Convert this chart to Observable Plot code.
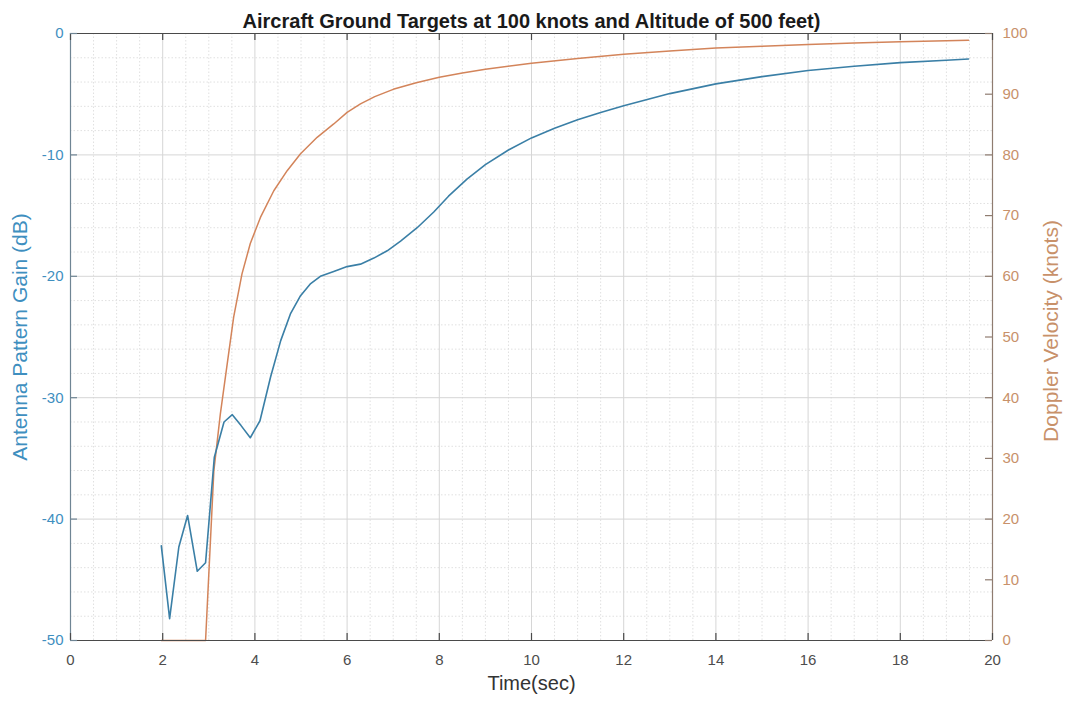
<!DOCTYPE html>
<html>
<head>
<meta charset="utf-8">
<script src="https://cdn.jsdelivr.net/npm/d3@7"></script>
<script src="https://cdn.jsdelivr.net/npm/@observablehq/plot@0.6"></script>
<style>
  html, body { margin: 0; padding: 0; background: #ffffff; }
  #chart svg { display: block; }
</style>
</head>
<body>
<div id="chart"></div>
<script>
// ---- Data ----
const gainTime = [1.97, 2.15, 2.35, 2.54, 2.75, 2.93, 3.12, 3.33, 3.51, 3.70, 3.90, 4.11, 4.34, 4.56, 4.77, 4.99, 5.21, 5.42, 5.71, 6.00, 6.29, 6.58, 6.87, 7.16, 7.52, 7.88, 8.2, 8.6, 9.0, 9.5, 10, 10.5, 11, 11.5, 12, 13, 14, 15, 16, 17, 18, 19, 19.48];
const gainDb   = [-42.2, -48.2, -42.3, -39.7, -44.3, -43.6, -34.9, -32.0, -31.4, -32.3, -33.3, -31.9, -28.3, -25.3, -23.1, -21.6, -20.6, -20.0, -19.6, -19.2, -19.0, -18.5, -17.9, -17.1, -16.0, -14.7, -13.4, -12.0, -10.8, -9.6, -8.6, -7.8, -7.1, -6.5, -5.95, -4.95, -4.15, -3.55, -3.05, -2.7, -2.4, -2.2, -2.1];

const dopplerTime  = [1.97, 2.93, 3.11, 3.25, 3.40, 3.54, 3.72, 3.90, 4.12, 4.41, 4.70, 4.99, 5.35, 5.71, 6.00, 6.29, 6.6, 7.0, 7.5, 8, 8.5, 9, 10, 11, 12, 13, 14, 15, 16, 17, 18, 19, 19.48];
const dopplerKnots = [0, 0, 28.0, 37.3, 45.6, 53.3, 60.4, 65.4, 69.7, 74.1, 77.4, 80.2, 82.9, 85.1, 87.0, 88.4, 89.6, 90.8, 91.9, 92.8, 93.5, 94.1, 95.1, 95.9, 96.6, 97.1, 97.6, 97.9, 98.2, 98.45, 98.65, 98.8, 98.9];

const xTicks = [0, 2, 4, 6, 8, 10, 12, 14, 16, 18, 20];
const leftTicks = [-50, -40, -30, -20, -10, 0];
const rightTicks = [0, 10, 20, 30, 40, 50, 60, 70, 80, 90, 100];

const titleText = "Aircraft Ground Targets at 100 knots and Altitude of 500 feet)";
const xLabel = "Time(sec)";
const leftLabel = "Antenna Pattern Gain (dB)";
const rightLabel = "Doppler Velocity (knots)";

// ---- Derived tables ----
const gainData = gainTime.map((t, i) => ({t, v: gainDb[i]}));
const dopData = dopplerTime.map((t, i) => ({t, v: dopplerKnots[i]}));
const toLeft = k => k / 2 - 50;          // right axis (knots 0..100) -> left axis (dB -50..0)
const xMinor = d3.range(0, 20.001, 0.5).filter(v => Math.abs(v / 2 - Math.round(v / 2)) > 1e-6);
const yMinor = d3.range(-50, 0.001, 2).filter(v => v % 10 !== 0);

const W = 1066, H = 704;
const mL = 70, mR = 74, mT = 33, mB = 64;
const xPerPx = 20 / (W - mL - mR);
const yPerPx = 50 / (H - mT - mB);
const tickPx = 7;

const BLUE = "#3a7fa6";
const ORANGE = "#d3845a";
const BLUE_TXT = "#3f8fbf";
const ORANGE_TXT = "#c8916a";
const AXIS = "#4a4a4a";

const chart = Plot.plot({
  width: W, height: H,
  marginLeft: mL, marginRight: mR, marginTop: mT, marginBottom: mB,
  x: {domain: [0, 20]},
  y: {domain: [-50, 0]},
  style: {fontFamily: "'Liberation Sans', Arial, sans-serif", background: "#ffffff", fontSize: "14px"},
  marks: [
    // grid
    Plot.gridX(xMinor, {stroke: "#e0e0e0", strokeOpacity: 1, strokeDasharray: "1.5,2"}),
    Plot.gridY(yMinor, {stroke: "#e0e0e0", strokeOpacity: 1, strokeDasharray: "1.5,2"}),
    Plot.gridX(xTicks, {stroke: "#d6d6d6", strokeOpacity: 1}),
    Plot.gridY(leftTicks, {stroke: "#d6d6d6", strokeOpacity: 1}),
    // data
    Plot.line(dopData, {x: "t", y: d => toLeft(d.v), stroke: ORANGE, strokeWidth: 1.5}),
    Plot.line(gainData, {x: "t", y: "v", stroke: BLUE, strokeWidth: 1.6}),
    // box
    Plot.ruleY([0], {stroke: AXIS, strokeWidth: 1.2}),
    Plot.ruleY([-50], {stroke: AXIS, strokeWidth: 1.2}),
    Plot.ruleX([0], {stroke: "#6f8594", strokeWidth: 1.2}),
    Plot.ruleX([20], {stroke: "#8f7c70", strokeWidth: 1.2}),
    // inward ticks
    Plot.ruleX(xTicks, {x: d => d, y1: -50, y2: -50 + tickPx * yPerPx, stroke: AXIS, strokeWidth: 1.2}),
    Plot.ruleX(xTicks, {x: d => d, y1: 0, y2: -tickPx * yPerPx, stroke: AXIS, strokeWidth: 1.2}),
    Plot.ruleY(leftTicks, {y: d => d, x1: 0, x2: tickPx * xPerPx, stroke: "#6f8594", strokeWidth: 1.2}),
    Plot.ruleY(rightTicks, {y: d => toLeft(d), x1: 20, x2: 20 - tickPx * xPerPx, stroke: "#8f7c70", strokeWidth: 1.2}),
    // axes
    Plot.axisX(xTicks, {anchor: "bottom", tickSize: 0, tickPadding: 14, fontSize: 15, color: "#4d4d4d", label: null, tickFormat: d => String(d)}),
    Plot.axisY(leftTicks, {anchor: "left", tickSize: 0, tickPadding: 7, fontSize: 15, color: BLUE_TXT, label: null, tickFormat: d => String(d)}),
    Plot.axisY(rightTicks.map(toLeft), {anchor: "right", tickSize: 0, tickPadding: 10, fontSize: 15, color: ORANGE_TXT, label: null, tickFormat: d => String(Math.round((d + 50) * 2))}),
    // labels
    Plot.text([titleText], {frameAnchor: "top", dy: -20, text: d => d, fontSize: 20, fontWeight: "bold", fill: "#1a1a1a"}),
    Plot.text([xLabel], {frameAnchor: "bottom", dy: 49, text: d => d, fontSize: 20, fill: "#333333"}),
    Plot.text([leftLabel], {frameAnchor: "left", textAnchor: "middle", dx: -50, rotate: -90, text: d => d, fontSize: 21, fill: BLUE_TXT}),
    Plot.text([rightLabel], {frameAnchor: "right", textAnchor: "middle", dx: 59, dy: -6, rotate: -90, text: d => d, fontSize: 21, fill: ORANGE_TXT})
  ]
});
document.getElementById("chart").append(chart);
</script>
</body>
</html>
